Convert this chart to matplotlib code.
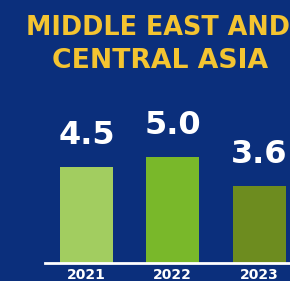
import matplotlib
matplotlib.use('Agg')
import matplotlib.pyplot as plt

years = ['2021', '2022', '2023']
growth = [4.5, 5.0, 3.6]
bar_colors = ['#a2cd60', '#79b82a', '#6d8c1f']
title_lines = ['MIDDLE EAST AND', 'CENTRAL ASIA']

bg = '#0b2f7c'
W, H = 290, 281
fig = plt.figure(figsize=(W / 100, H / 100), dpi=100, facecolor=bg)
ax = fig.add_axes([0, 0, 1, 1])
ax.set_facecolor(bg)

# pixel layout: bar centres 86.25 px apart, baseline 18 px above the bottom
unit_x = 86.25
unit_y = 21.3
ax.set_xlim(-86.5 / unit_x, (W - 86.5) / unit_x)
ax.set_ylim(-18 / unit_y, (H - 18) / unit_y)
ax.axis('off')

x = range(len(years))
ax.bar(x, growth, width=53 / unit_x, color=bar_colors, zorder=2)
ax.axhline(0, xmin=45 / W, xmax=1, color='white', linewidth=2, zorder=3)

for i, v in enumerate(growth):
    ax.annotate(f'{v:.1f}', (i, v), xytext=(0, 16.5), textcoords='offset points',
                ha='center', va='baseline', color='white', fontsize=23,
                fontweight='bold', family='DejaVu Sans')
    ax.annotate(years[i], (i, 0), xytext=(0, -11.4), textcoords='offset points',
                ha='center', va='baseline', color='white', fontsize=10,
                fontweight='bold', family='DejaVu Sans')

fig.text(158 / W, 1 - 35 / H, title_lines[0], ha='center', va='baseline',
         color='#f4c431', fontsize=18.4, fontweight='bold', family='DejaVu Sans')
fig.text(160 / W, 1 - 68 / H, title_lines[1], ha='center', va='baseline',
         color='#f4c431', fontsize=19.2, fontweight='bold', family='DejaVu Sans')

fig.savefig('out.png', dpi=100, facecolor=bg)
